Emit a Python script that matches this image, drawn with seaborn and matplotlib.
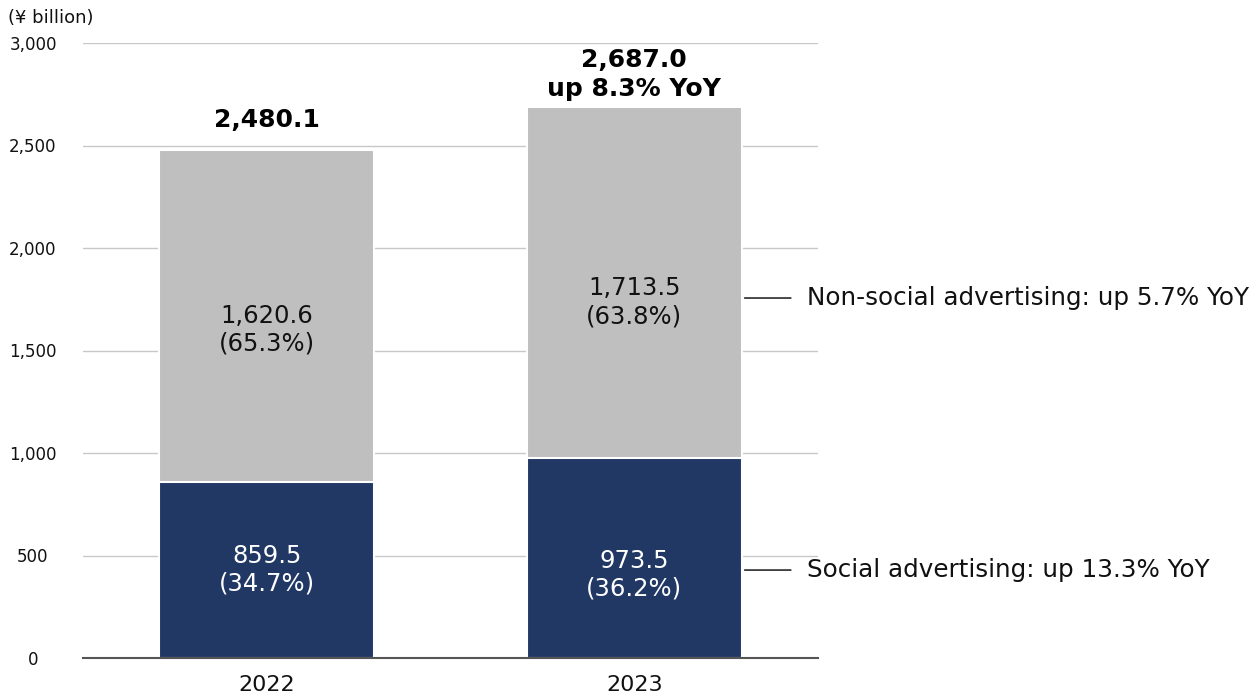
import pandas as pd
import numpy as np
import matplotlib.pyplot as plt
import seaborn as sns

# Данные
years = ['2022', '2023']
social = [859.5, 973.5]
non_social = [1620.6, 1713.5]
social_pct = ['34.7%', '36.2%']
non_social_pct = ['65.3%', '63.8%']
total_labels = ['2,480.1', '2,687.0\nup 8.3% YoY']
series_notes = ['Social advertising: up 13.3% YoY', 'Non-social advertising: up 5.7% YoY']
y_ticks = [0, 500, 1000, 1500, 2000, 2500, 3000]

df = pd.DataFrame({'year': years, 'social': social, 'non_social': non_social})
df['total'] = df['social'] + df['non_social']

sns.set_style('white')
plt.rcParams['font.family'] = ['DejaVu Sans']

navy = '#213864'
grey = '#bfbfbf'

fig = plt.figure(figsize=(12.56, 7.0), dpi=100)
ax = fig.add_axes([83 / 1256, 1 - 658 / 700, (818 - 83) / 1256, (658 - 43) / 700])

# Сетка
for t in y_ticks[1:]:
    ax.axhline(t, color='#c8c8c8', lw=1, zorder=0)

# Стек: сначала итог (серый), затем соц. реклама поверх
sns.barplot(data=df, x='year', y='total', color=grey, width=0.585, saturation=1,
            edgecolor='white', linewidth=1.5, ax=ax, zorder=2)
sns.barplot(data=df, x='year', y='social', color=navy, width=0.585, saturation=1,
            edgecolor='white', linewidth=1.5, ax=ax, zorder=3)

ax.set_xlim(-0.5, 1.5)
ax.set_ylim(0, 3000)
ax.set_yticks(y_ticks)
ax.set_yticklabels([f'{t:,}' for t in y_ticks], ha='center')
ax.tick_params(axis='y', length=0, pad=36, labelsize=12, labelcolor='#111111')
ax.tick_params(axis='x', length=0, pad=12, labelsize=16, labelcolor='#111111')
ax.set_xlabel('')
ax.set_ylabel('')
for s in ['top', 'right', 'left']:
    ax.spines[s].set_visible(False)
ax.spines['bottom'].set_color('#555555')
ax.spines['bottom'].set_linewidth(1.5)
ax.spines['bottom'].set_zorder(4)

# Подписи внутри столбцов (смещение в пунктах, как в оригинале)
social_shift = [0, -12]
non_social_shift = [-10, -14]
total_shift = [16.5, 8]
for i in range(len(years)):
    ax.annotate(f'{social[i]:,.1f}\n({social_pct[i]})', (i, social[i] / 2),
                xytext=(0, social_shift[i]), textcoords='offset points',
                ha='center', va='center', color='white', fontsize=17.5, linespacing=1.2, zorder=5)
    ax.annotate(f'{non_social[i]:,.1f}\n({non_social_pct[i]})', (i, social[i] + non_social[i] / 2),
                xytext=(0, non_social_shift[i]), textcoords='offset points',
                ha='center', va='center', color='#111111', fontsize=17.5, linespacing=1.2, zorder=5)
    ax.annotate(total_labels[i], (i, df['total'][i]), xytext=(0, total_shift[i]),
                textcoords='offset points', ha='center', va='baseline', color='black',
                fontsize=18, fontweight='bold', linespacing=1.25, zorder=5)

# Выноски справа
note_y = [429, 1756]
for yv, note in zip(note_y, series_notes):
    ax.annotate('', xy=(1 + 0.585 / 2, yv), xytext=(1.434, yv),
                arrowprops=dict(arrowstyle='-', color='black', lw=1), annotation_clip=False)
    ax.text(1.469, yv, note, ha='left', va='center', fontsize=17.7, color='#111111', clip_on=False)

fig.text(8 / 1256, 1 - 18 / 700, '(¥ billion)', ha='left', va='center', fontsize=13, color='#111111')

plt.savefig('out.png', dpi=100)
plt.close()
